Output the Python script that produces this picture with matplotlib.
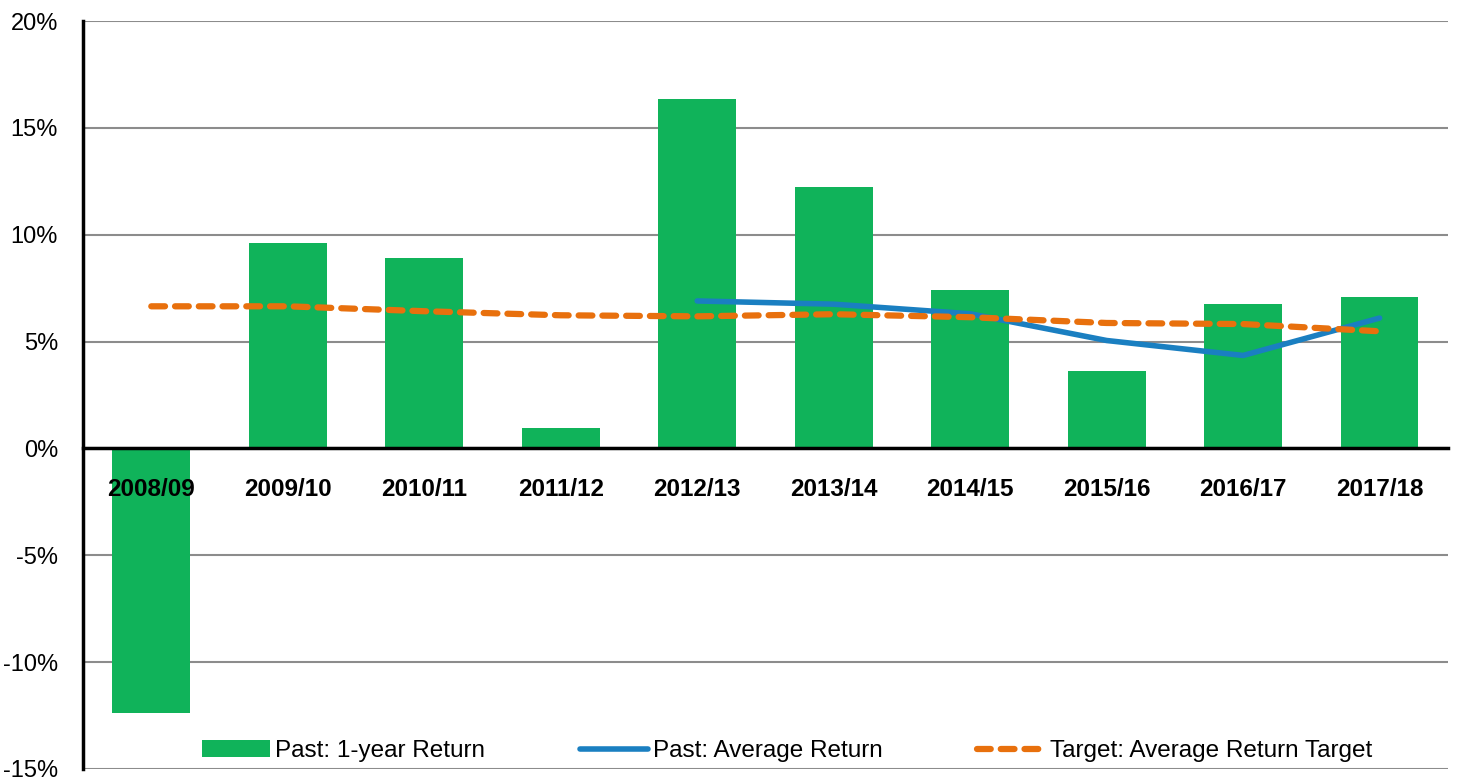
import numpy as np
import matplotlib.pyplot as plt
from matplotlib.ticker import FuncFormatter

plt.rcParams['font.family'] = ['Liberation Sans', 'DejaVu Sans']

years = ['2008/09', '2009/10', '2010/11', '2011/12', '2012/13',
         '2013/14', '2014/15', '2015/16', '2016/17', '2017/18']
one_year = [-12.4, 9.6, 8.9, 0.95, 16.35, 12.25, 7.4, 3.6, 6.75, 7.1]
avg_return = [np.nan, np.nan, np.nan, np.nan, 6.9, 6.75, 6.3, 5.05, 4.35, 6.1]
avg_target = [6.65, 6.65, 6.42, 6.23, 6.18, 6.28, 6.14, 5.87, 5.82, 5.48]

fig = plt.figure(figsize=(14.57, 7.78), dpi=100)
ax = fig.add_axes([0.057, 0.0116, 0.9367, 0.9614])

x = np.arange(len(years))
bars = ax.bar(x, one_year, width=0.57, color='#10b35a', zorder=2)
l1, = ax.plot(x, avg_return, color='#1a7fc1', lw=4, zorder=3, solid_capstyle='round')
l2, = ax.plot(x, avg_target, color='#e8700d', lw=4.5, ls=(0, (2.2, 1.6)),
              dash_capstyle='round', zorder=4)

ax.set_xlim(-0.5, len(years) - 0.5)
ax.set_ylim(-15, 20)
ax.set_yticks(np.arange(-15, 21, 5))
ax.yaxis.set_major_formatter(FuncFormatter(lambda v, p: '%d%%' % v))
ax.grid(axis='y', color='#8c8c8c', lw=1.5, zorder=0)

ax.spines['top'].set_visible(False)
ax.spines['right'].set_visible(False)
ax.spines['left'].set_linewidth(2.5)
ax.spines['bottom'].set_position(('data', 0))
ax.spines['bottom'].set_linewidth(2.5)
ax.spines['bottom'].set_zorder(5)

ax.set_xticks(x)
ax.set_xticklabels(years, fontsize=17.5, fontweight='bold')
ax.xaxis.set_zorder(10)
ax.tick_params(axis='x', length=0, pad=21)
ax.tick_params(axis='y', length=0, pad=18, labelsize=17)

ax.legend([bars, l1, l2],
          ['Past: 1-year Return', 'Past: Average Return', 'Target: Average Return Target'],
          loc='lower center', bbox_to_anchor=(0.516, -0.02), ncol=3, frameon=False,
          fontsize=17.5, columnspacing=3.9, handlelength=2.8, handletextpad=0.2)

fig.savefig('out.png', dpi=100)
